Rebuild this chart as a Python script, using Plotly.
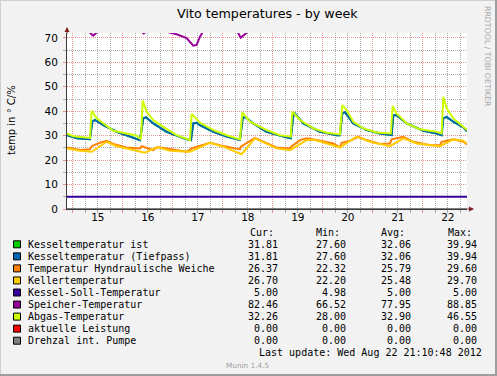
import pandas as pd
import plotly.graph_objects as go

# ---------------- data (hours after 2012-08-15 00:00, values in °C / %) ----------------
BASE = "2012-08-15 00:00:00"
RANGE_START = "2012-08-14 21:10:48"
RANGE_END = "2012-08-22 21:10:48"

kessel_h = [-3.0, 1.8, 8.2, 9.3, 10.6, 14.6, 21.0, 27.4, 32.2, 33.8, 35.1, 38.6, 45.0, 54.6, 56.7,
            57.8, 59.4, 61.0, 67.4, 73.8, 80.2, 81.5, 82.6, 86.6, 93.0, 101.0, 104.6, 105.8, 106.6,
            110.6, 118.6, 126.6, 128.2, 129.3, 130.6, 134.6, 141.0, 147.4, 153.0, 153.8, 155.4,
            160.2, 168.2, 174.6, 177.0, 177.8, 179.4, 182.6, 187.4, 189.2]
kessel_v = [30.2, 28.9, 28.6, 35.7, 36.4, 34.3, 31.6, 29.6, 28.2, 37.1, 37.5, 35.0, 31.6, 28.5, 28.2,
            35.0, 35.3, 34.3, 31.6, 29.6, 28.2, 37.1, 37.7, 35.0, 31.6, 29.6, 28.9, 38.0, 39.0,
            35.0, 31.6, 30.2, 30.2, 39.0, 39.6, 35.0, 32.3, 30.9, 30.2, 38.4, 38.4,
            35.0, 32.0, 30.9, 30.2, 37.1, 37.7, 35.7, 33.4, 31.8]

weiche_h = [-3.0, 3.4, 8.2, 9.0, 13.0, 16.2, 19.4, 25.8, 32.2, 33.0, 38.6, 40.5, 48.0, 54.6, 57.0,
            64.2, 65.8, 70.6, 77.0, 80.2, 80.6, 84.2, 87.4, 91.4, 97.8, 104.2, 105.0, 109.0, 112.2,
            117.0, 125.0, 128.2, 129.0, 133.0, 137.0, 141.0, 147.4, 152.2, 153.0, 158.6, 163.4,
            171.4, 176.2, 177.0, 182.6, 187.4, 189.2]
weiche_v = [25.2, 24.1, 24.4, 25.7, 27.1, 27.9, 26.6, 25.2, 24.8, 25.7, 24.1, 25.3, 24.3, 23.4, 24.8,
            26.8, 27.1, 26.1, 24.8, 24.4, 25.5, 27.5, 29.1, 27.5, 25.2, 24.8, 25.7, 28.2, 28.9,
            28.2, 26.8, 25.2, 27.1, 27.9, 29.5, 28.2, 26.6, 26.8, 28.5, 29.5, 27.5,
            26.1, 26.1, 27.5, 28.5, 27.5, 26.4]

keller_h = [-3.0, 3.4, 9.0, 16.2, 21.0, 32.2, 34.6, 40.5, 46.6, 56.2, 64.2, 65.8, 72.2, 79.4, 81.0,
            87.4, 97.8, 104.2, 112.2, 116.2, 125.0, 128.2, 136.2, 142.6, 152.2, 158.6, 165.0,
            173.0, 176.2, 182.6, 187.4, 189.2]
keller_v = [24.8, 23.8, 23.4, 27.5, 25.7, 23.4, 23.0, 25.3, 23.8, 23.4, 26.6, 27.1, 25.5, 23.0, 22.4,
            28.9, 24.8, 24.1, 28.2, 28.2, 26.1, 25.2, 29.6, 27.5, 25.7, 28.9, 26.8,
            26.1, 25.7, 28.5, 27.9, 26.7]

soll_h = [-3.0, 189.2]
soll_v = [5.0, 5.0]

speicher_h = [-3.0, 5.0, 9.0, 9.8, 11.5, 14.0, 25.0, 32.5, 34.0, 36.0, 44.0, 46.0, 49.8, 54.6, 57.8,
              59.4, 61.0, 62.3, 63.5, 70.0, 79.0, 80.6, 84.0, 86.0, 100.0, 120.0, 140.0, 160.0,
              175.0, 189.2]
speicher_v = [76.0, 75.0, 71.5, 70.9, 72.3, 75.5, 78.0, 73.0, 71.8, 73.5, 74.0, 72.3, 71.5, 69.9, 66.8,
              67.1, 70.5, 72.3, 76.0, 80.0, 72.5, 70.1, 72.5, 76.0, 82.0, 85.0, 88.0, 86.0,
              84.0, 82.5]

abgas_h = [-3.0, 0.2, 8.2, 9.0, 11.4, 14.6, 19.4, 25.8, 30.6, 32.7, 33.5, 35.4, 38.6, 43.4, 49.8,
           56.2, 57.0, 61.0, 67.4, 73.8, 80.2, 81.3, 85.0, 93.0, 99.4, 104.6, 105.3, 109.0, 115.4,
           121.8, 128.2, 129.3, 131.4, 134.6, 139.4, 145.8, 152.6, 153.5, 155.4, 160.2, 166.6,
           174.6, 177.0, 177.8, 179.4, 182.6, 187.4, 189.2]
abgas_v = [30.9, 29.8, 29.1, 40.2, 37.1, 35.0, 32.0, 30.9, 30.0, 28.5, 44.3, 39.8, 36.4, 33.6, 30.2,
           28.2, 38.9, 35.3, 32.3, 30.2, 28.5, 39.5, 35.7, 32.3, 30.2, 29.6, 39.8, 36.4, 33.0,
           31.2, 30.5, 42.5, 40.5, 35.7, 33.0, 31.3, 30.9, 42.1, 39.1, 35.0, 32.6,
           31.6, 30.9, 45.9, 41.2, 37.1, 33.6, 32.3]

leistung_h = [-3.0, 189.2]
leistung_v = [0.0, 0.0]
pumpe_h = [-3.0, 189.2]
pumpe_v = [0.0, 0.0]

labels = ["Kesseltemperatur ist", "Kesseltemperatur (Tiefpass)", "Temperatur Hyndraulische Weiche",
          "Kellertemperatur", "Kessel-Soll-Temperatur", "Speicher-Temperatur", "Abgas-Temperatur",
          "aktuelle Leistung", "Drehzal int. Pumpe"]
colors = ["#00CC00", "#0066B3", "#FF8000", "#FFCC00", "#330099", "#990099", "#CCFF00", "#FF0000", "#808080"]
cur_vals = ["31.81", "31.81", "26.37", "26.70", "5.00", "82.46", "32.26", "0.00", "0.00"]
min_vals = ["27.60", "27.60", "22.32", "22.20", "4.98", "66.52", "28.00", "0.00", "0.00"]
avg_vals = ["32.06", "32.06", "25.79", "25.48", "5.00", "77.95", "32.90", "0.00", "0.00"]
max_vals = ["39.94", "39.94", "29.60", "29.70", "5.00", "88.85", "46.55", "0.00", "0.00"]

series = [(kessel_h, kessel_v), (kessel_h, kessel_v), (weiche_h, weiche_v), (keller_h, keller_v),
          (soll_h, soll_v), (speicher_h, speicher_v), (abgas_h, abgas_v),
          (leistung_h, leistung_v), (pumpe_h, pumpe_v)]

# ---------------- layout geometry ----------------
W, H = 497, 376
L, R, T, B = 67, 467, 33, 209


def px(x):
    return (x - L) / (R - L)


def py(y):
    return (B - y) / (B - T)


base = pd.Timestamp(BASE)
fig = go.Figure()
for (hh, vv), name, col in zip(series, labels, colors):
    t = [base + pd.Timedelta(hours=h) for h in hh]
    fig.add_trace(go.Scatter(x=t, y=vv, mode="lines", name=name,
                             line=dict(color=col, width=2), hoverinfo="skip"))

GRID = "rgba(143,143,143,0.75)"
MGRID = "rgba(222,79,79,0.6)"
AXIS = "#3a3a3a"

fig.update_layout(
    width=W, height=H,
    margin=dict(l=L, r=W - R, t=T, b=H - B, pad=0),
    paper_bgcolor="#F2F2F2", plot_bgcolor="#FFFFFF",
    showlegend=False,
    font=dict(family="DejaVu Sans", size=10, color="#000000"),
    xaxis=dict(
        type="date", range=[RANGE_START, RANGE_END],
        tick0="2012-08-15", dtick=86400000, tickformat="%d", ticklabelmode="period",
        showgrid=True, gridcolor=MGRID, griddash="1px,1px", gridwidth=1,
        ticks="outside", ticklen=3, tickcolor=MGRID, tickwidth=1,
        minor=dict(dtick=21600000, showgrid=True, gridcolor=GRID, griddash="1px,1px",
                   ticks="outside", ticklen=3, tickcolor=GRID),
        showline=True, linecolor=AXIS, linewidth=1, zeroline=False,
        tickfont=dict(family="DejaVu Sans", size=10.5, color="#000000"),
        ticklabelstandoff=-5,
    ),
    yaxis=dict(
        range=[0, 72], tick0=0, dtick=10,
        showgrid=True, gridcolor=MGRID, griddash="1px,1px", gridwidth=1,
        ticks="outside", ticklen=3, tickcolor=MGRID, tickwidth=1,
        minor=dict(dtick=5, showgrid=True, gridcolor=GRID, griddash="1px,1px",
                   ticks="outside", ticklen=3, tickcolor=GRID),
        showline=True, linecolor=AXIS, linewidth=1, zeroline=False,
        tickfont=dict(family="DejaVu Sans", size=10.5, color="#000000"),
        ticklabelstandoff=3,
    ),
)

ann = []


def text(x, y, s, size=10, family="DejaVu Sans", anchor="left", color="#000000", angle=0):
    ann.append(dict(xref="paper", yref="paper", x=px(x), y=py(y), text=s, showarrow=False,
                    xanchor=anchor, yanchor="middle", textangle=angle, borderpad=0,
                    font=dict(family=family, size=size, color=color)))


# title, axis title, watermark
text(267, 13.5, "Vito temperatures - by week", size=12.7, anchor="center")
text(12, 120, "temp in ° C/%", size=10, anchor="center", angle=-90)
text(487.5, 56.5, "RRDTOOL / TOBI OETIKER", size=7.8, anchor="center", angle=90, color="#A8A8A8")

MONO = "DejaVu Sans Mono"
hdr_y = 232.5
row_y0, row_dy = 244.3, 12.05
text(249, hdr_y, "Cur:", family=MONO)
text(315, hdr_y, "Min:", family=MONO)
text(380, hdr_y, "Avg:", family=MONO)
text(446.5, hdr_y, "Max:", family=MONO)
shapes = []
for i, (name, col) in enumerate(zip(labels, colors)):
    y = row_y0 + i * row_dy
    shapes.append(dict(type="rect", xref="paper", yref="paper",
                       x0=px(13.5), x1=px(20.5), y0=py(y - 3.5), y1=py(y + 3.5),
                       fillcolor=col, line=dict(color="#000000", width=1)))
    text(27, y, name, family=MONO)
    text(278.5, y, cur_vals[i], family=MONO, anchor="right")
    text(346.5, y, min_vals[i], family=MONO, anchor="right")
    text(411.5, y, avg_vals[i], family=MONO, anchor="right")
    text(477.5, y, max_vals[i], family=MONO, anchor="right")

text(483, 352.5, "Last update: Wed Aug 22 21:10:48 2012", family=MONO, anchor="right")
text(225, 365, "Munin 1.4.5", size=7.3, color="#A0A0A0")

# axis arrows
ann.append(dict(xref="paper", yref="paper", x=px(474), y=py(B), ax=-8, ay=0,
                axref="pixel", ayref="pixel", showarrow=True, arrowhead=2, arrowsize=1,
                arrowwidth=1, arrowcolor="#801F1F", text=""))
ann.append(dict(xref="paper", yref="paper", x=px(L), y=py(27), ax=0, ay=8,
                axref="pixel", ayref="pixel", showarrow=True, arrowhead=2, arrowsize=1,
                arrowwidth=1, arrowcolor="#801F1F", text=""))

# image frame (3D border)
shapes += [
    dict(type="line", xref="paper", yref="paper", x0=px(0), x1=px(W), y0=py(0.5), y1=py(0.5),
         line=dict(color="#CFCFCF", width=1)),
    dict(type="line", xref="paper", yref="paper", x0=px(0.5), x1=px(0.5), y0=py(0), y1=py(H),
         line=dict(color="#CFCFCF", width=1)),
    dict(type="line", xref="paper", yref="paper", x0=px(0), x1=px(W), y0=py(H - 1), y1=py(H - 1),
         line=dict(color="#9E9E9E", width=2)),
    dict(type="line", xref="paper", yref="paper", x0=px(W - 1), x1=px(W - 1), y0=py(0), y1=py(H),
         line=dict(color="#9E9E9E", width=2)),
]

fig.update_layout(annotations=ann, shapes=shapes)
fig.write_html("out.html", config={"displayModeBar": False},
               post_script="document.body.style.margin='0';document.body.style.padding='0';"
                           "document.body.style.overflow='hidden';")
